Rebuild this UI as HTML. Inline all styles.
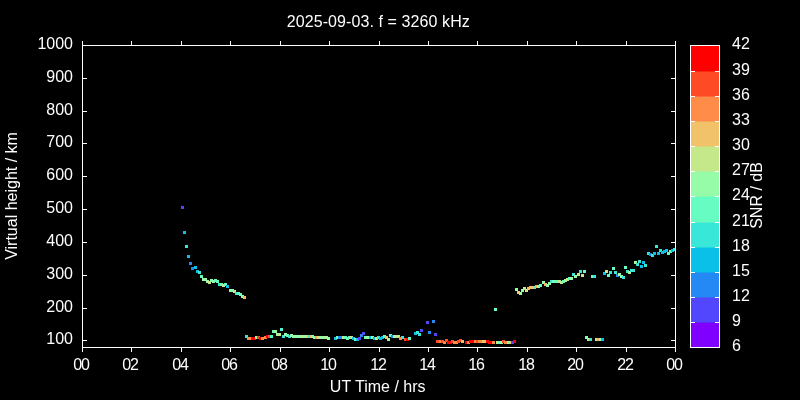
<!DOCTYPE html>
<html><head><meta charset="utf-8"><title>chart</title>
<style>
html,body{margin:0;padding:0;background:#000;width:800px;height:400px;overflow:hidden}
svg{display:block}
text{font-family:"Liberation Sans",sans-serif;font-size:16px;fill:#fff}
</style></head><body>
<svg width="800" height="400" viewBox="0 0 800 400">
<rect x="0" y="0" width="800" height="400" fill="#000"/>
<g shape-rendering="crispEdges">
<rect x="181" y="206" width="3" height="3" fill="#5247fc"/>
<rect x="183" y="231" width="3" height="3" fill="#0ac0e8"/>
<rect x="185" y="245" width="3" height="3" fill="#38e7d7"/>
<rect x="187" y="255" width="3" height="3" fill="#0ac0e8"/>
<rect x="189" y="262" width="3" height="3" fill="#2489f5"/>
<rect x="191" y="267" width="3" height="3" fill="#2489f5"/>
<rect x="194" y="266" width="3" height="3" fill="#0ac0e8"/>
<rect x="196" y="270" width="3" height="3" fill="#0ac0e8"/>
<rect x="198" y="271" width="3" height="3" fill="#38e7d7"/>
<rect x="200" y="275" width="3" height="3" fill="#66fcc2"/>
<rect x="202" y="278" width="3" height="3" fill="#96fca7"/>
<rect x="204" y="278" width="3" height="3" fill="#96fca7"/>
<rect x="206" y="280" width="3" height="3" fill="#96fca7"/>
<rect x="208" y="281" width="3" height="3" fill="#c4e88a"/>
<rect x="210" y="279" width="3" height="3" fill="#96fca7"/>
<rect x="212" y="280" width="3" height="3" fill="#96fca7"/>
<rect x="214" y="279" width="3" height="3" fill="#66fcc2"/>
<rect x="216" y="280" width="3" height="3" fill="#66fcc2"/>
<rect x="218" y="283" width="3" height="3" fill="#38e7d7"/>
<rect x="220" y="283" width="3" height="3" fill="#66fcc2"/>
<rect x="222" y="284" width="3" height="3" fill="#c4e88a"/>
<rect x="224" y="283" width="3" height="3" fill="#66fcc2"/>
<rect x="226" y="285" width="3" height="3" fill="#0ac0e8"/>
<rect x="229" y="289" width="3" height="3" fill="#96fca7"/>
<rect x="231" y="289" width="3" height="3" fill="#96fca7"/>
<rect x="233" y="290" width="3" height="3" fill="#c4e88a"/>
<rect x="235" y="292" width="3" height="3" fill="#38e7d7"/>
<rect x="237" y="292" width="3" height="3" fill="#66fcc2"/>
<rect x="239" y="293" width="3" height="3" fill="#66fcc2"/>
<rect x="241" y="295" width="3" height="3" fill="#96fca7"/>
<rect x="243" y="296" width="3" height="3" fill="#ffb360"/>
<rect x="245" y="335" width="3" height="3" fill="#38e7d7"/>
<rect x="247" y="337" width="3" height="3" fill="#ff8c49"/>
<rect x="249" y="337" width="3" height="3" fill="#ff8c49"/>
<rect x="251" y="337" width="3" height="3" fill="#ff0000"/>
<rect x="253" y="337" width="3" height="3" fill="#ff0000"/>
<rect x="255" y="336" width="3" height="3" fill="#96fca7"/>
<rect x="257" y="336" width="3" height="3" fill="#ff4a26"/>
<rect x="259" y="337" width="3" height="3" fill="#ff0000"/>
<rect x="261" y="337" width="3" height="3" fill="#ff8c49"/>
<rect x="264" y="336" width="3" height="3" fill="#ff8c49"/>
<rect x="266" y="335" width="3" height="3" fill="#ff0000"/>
<rect x="268" y="335" width="3" height="3" fill="#ff4a26"/>
<rect x="270" y="335" width="3" height="3" fill="#50f4cc"/>
<rect x="272" y="330" width="3" height="3" fill="#66fcc2"/>
<rect x="274" y="330" width="3" height="3" fill="#96fca7"/>
<rect x="276" y="333" width="3" height="3" fill="#96fca7"/>
<rect x="278" y="333" width="3" height="3" fill="#c4e88a"/>
<rect x="280" y="328" width="3" height="3" fill="#50f4cc"/>
<rect x="282" y="335" width="3" height="3" fill="#38e7d7"/>
<rect x="284" y="333" width="3" height="3" fill="#96fca7"/>
<rect x="286" y="334" width="3" height="3" fill="#66fcc2"/>
<rect x="288" y="335" width="3" height="3" fill="#38e7d7"/>
<rect x="290" y="334" width="3" height="3" fill="#96fca7"/>
<rect x="292" y="335" width="3" height="3" fill="#96fca7"/>
<rect x="294" y="335" width="3" height="3" fill="#96fca7"/>
<rect x="296" y="335" width="3" height="3" fill="#96fca7"/>
<rect x="299" y="335" width="3" height="3" fill="#96fca7"/>
<rect x="301" y="335" width="3" height="3" fill="#c4e88a"/>
<rect x="303" y="335" width="3" height="3" fill="#96fca7"/>
<rect x="305" y="335" width="3" height="3" fill="#c4e88a"/>
<rect x="307" y="335" width="3" height="3" fill="#4df3ce"/>
<rect x="309" y="335" width="3" height="3" fill="#ffa256"/>
<rect x="311" y="335" width="3" height="3" fill="#96fca7"/>
<rect x="313" y="336" width="3" height="3" fill="#96fca7"/>
<rect x="315" y="336" width="3" height="3" fill="#ffa256"/>
<rect x="317" y="336" width="3" height="3" fill="#c4e88a"/>
<rect x="319" y="336" width="3" height="3" fill="#96fca7"/>
<rect x="321" y="336" width="3" height="3" fill="#96fca7"/>
<rect x="323" y="336" width="3" height="3" fill="#c4e88a"/>
<rect x="325" y="336" width="3" height="3" fill="#96fca7"/>
<rect x="327" y="337" width="3" height="3" fill="#96fca7"/>
<rect x="334" y="337" width="3" height="3" fill="#0ac0e8"/>
<rect x="336" y="336" width="3" height="3" fill="#66fcc2"/>
<rect x="338" y="336" width="3" height="3" fill="#2489f5"/>
<rect x="340" y="336" width="3" height="3" fill="#2489f5"/>
<rect x="342" y="336" width="3" height="3" fill="#c4e88a"/>
<rect x="344" y="336" width="3" height="3" fill="#66fcc2"/>
<rect x="346" y="337" width="3" height="3" fill="#66fcc2"/>
<rect x="348" y="336" width="3" height="3" fill="#66fcc2"/>
<rect x="350" y="336" width="3" height="3" fill="#c4e88a"/>
<rect x="352" y="337" width="3" height="3" fill="#0ac0e8"/>
<rect x="354" y="338" width="3" height="3" fill="#66fcc2"/>
<rect x="356" y="338" width="3" height="3" fill="#0ac0e8"/>
<rect x="358" y="337" width="3" height="3" fill="#5247fc"/>
<rect x="360" y="334" width="3" height="3" fill="#2489f5"/>
<rect x="362" y="332" width="3" height="3" fill="#5247fc"/>
<rect x="364" y="336" width="3" height="3" fill="#66fcc2"/>
<rect x="366" y="336" width="3" height="3" fill="#96fca7"/>
<rect x="369" y="336" width="3" height="3" fill="#0ac0e8"/>
<rect x="371" y="336" width="3" height="3" fill="#96fca7"/>
<rect x="373" y="337" width="3" height="3" fill="#0ac0e8"/>
<rect x="375" y="337" width="3" height="3" fill="#c4e88a"/>
<rect x="377" y="336" width="3" height="3" fill="#38e7d7"/>
<rect x="379" y="337" width="3" height="3" fill="#0ac0e8"/>
<rect x="381" y="336" width="3" height="3" fill="#0ac0e8"/>
<rect x="383" y="335" width="3" height="3" fill="#66fcc2"/>
<rect x="385" y="336" width="3" height="3" fill="#f2c26b"/>
<rect x="387" y="338" width="3" height="3" fill="#96fca7"/>
<rect x="389" y="334" width="3" height="3" fill="#66fcc2"/>
<rect x="391" y="335" width="3" height="3" fill="#2489f5"/>
<rect x="393" y="335" width="3" height="3" fill="#96fca7"/>
<rect x="395" y="335" width="3" height="3" fill="#c4e88a"/>
<rect x="397" y="335" width="3" height="3" fill="#c4e88a"/>
<rect x="399" y="337" width="3" height="3" fill="#ff8c49"/>
<rect x="401" y="336" width="3" height="3" fill="#38e7d7"/>
<rect x="404" y="338" width="3" height="3" fill="#ff4a26"/>
<rect x="406" y="338" width="3" height="3" fill="#ff0000"/>
<rect x="408" y="337" width="3" height="3" fill="#66fcc2"/>
<rect x="414" y="332" width="3" height="3" fill="#0ac0e8"/>
<rect x="416" y="331" width="3" height="3" fill="#38e7d7"/>
<rect x="418" y="333" width="3" height="3" fill="#38e7d7"/>
<rect x="420" y="329" width="3" height="3" fill="#5247fc"/>
<rect x="426" y="321" width="3" height="3" fill="#5247fc"/>
<rect x="428" y="331" width="3" height="3" fill="#2489f5"/>
<rect x="432" y="320" width="3" height="3" fill="#2489f5"/>
<rect x="434" y="333" width="3" height="3" fill="#5247fc"/>
<rect x="436" y="340" width="3" height="3" fill="#ff4a26"/>
<rect x="439" y="340" width="3" height="3" fill="#ff8c49"/>
<rect x="441" y="340" width="3" height="3" fill="#ff4a26"/>
<rect x="443" y="341" width="3" height="3" fill="#ff8c49"/>
<rect x="445" y="339" width="3" height="3" fill="#ff4a26"/>
<rect x="447" y="341" width="3" height="3" fill="#ff0000"/>
<rect x="449" y="341" width="3" height="3" fill="#ff0000"/>
<rect x="451" y="340" width="3" height="3" fill="#ff4a26"/>
<rect x="453" y="341" width="3" height="3" fill="#ff8c49"/>
<rect x="455" y="341" width="3" height="3" fill="#ff8c49"/>
<rect x="457" y="340" width="3" height="3" fill="#ff4a26"/>
<rect x="459" y="339" width="3" height="3" fill="#ff4a26"/>
<rect x="461" y="340" width="3" height="3" fill="#f2c26b"/>
<rect x="465" y="341" width="3" height="3" fill="#ff0000"/>
<rect x="467" y="341" width="3" height="3" fill="#ff8c49"/>
<rect x="469" y="340" width="3" height="3" fill="#ff0000"/>
<rect x="471" y="340" width="3" height="3" fill="#ff0000"/>
<rect x="474" y="340" width="3" height="3" fill="#ff8c49"/>
<rect x="476" y="340" width="3" height="3" fill="#ff4a26"/>
<rect x="478" y="340" width="3" height="3" fill="#ff8c49"/>
<rect x="480" y="340" width="3" height="3" fill="#ff8c49"/>
<rect x="482" y="340" width="3" height="3" fill="#f2c26b"/>
<rect x="484" y="340" width="3" height="3" fill="#f2c26b"/>
<rect x="486" y="340" width="3" height="3" fill="#ff0000"/>
<rect x="488" y="341" width="3" height="3" fill="#ff0000"/>
<rect x="490" y="341" width="3" height="3" fill="#ff0000"/>
<rect x="492" y="341" width="3" height="3" fill="#ff8c49"/>
<rect x="494" y="308" width="3" height="3" fill="#66fcc2"/>
<rect x="496" y="341" width="3" height="3" fill="#c4e88a"/>
<rect x="498" y="341" width="3" height="3" fill="#66fcc2"/>
<rect x="500" y="341" width="3" height="3" fill="#96fca7"/>
<rect x="502" y="340" width="3" height="3" fill="#ff4a26"/>
<rect x="504" y="341" width="3" height="3" fill="#ff8c49"/>
<rect x="507" y="341" width="3" height="3" fill="#96fca7"/>
<rect x="509" y="341" width="3" height="3" fill="#f2c26b"/>
<rect x="511" y="341" width="3" height="3" fill="#5247fc"/>
<rect x="513" y="340" width="3" height="3" fill="#ff0000"/>
<rect x="515" y="288" width="3" height="3" fill="#96fca7"/>
<rect x="517" y="291" width="3" height="3" fill="#f2c26b"/>
<rect x="519" y="292" width="3" height="3" fill="#96fca7"/>
<rect x="521" y="289" width="3" height="3" fill="#96fca7"/>
<rect x="523" y="287" width="3" height="3" fill="#c4e88a"/>
<rect x="525" y="289" width="3" height="3" fill="#c4e88a"/>
<rect x="527" y="287" width="3" height="3" fill="#f9bb66"/>
<rect x="529" y="286" width="3" height="3" fill="#f9bb66"/>
<rect x="531" y="286" width="3" height="3" fill="#f9bb66"/>
<rect x="533" y="286" width="3" height="3" fill="#55f6cb"/>
<rect x="535" y="285" width="3" height="3" fill="#ffae5e"/>
<rect x="537" y="285" width="3" height="3" fill="#96fca7"/>
<rect x="539" y="284" width="3" height="3" fill="#66fcc2"/>
<rect x="542" y="281" width="3" height="3" fill="#96fca7"/>
<rect x="544" y="283" width="3" height="3" fill="#ffae5e"/>
<rect x="546" y="284" width="3" height="3" fill="#96fca7"/>
<rect x="548" y="282" width="3" height="3" fill="#96fca7"/>
<rect x="550" y="280" width="3" height="3" fill="#38e7d7"/>
<rect x="552" y="280" width="3" height="3" fill="#75feba"/>
<rect x="554" y="280" width="3" height="3" fill="#75feba"/>
<rect x="556" y="280" width="3" height="3" fill="#66fcc2"/>
<rect x="558" y="280" width="3" height="3" fill="#c4e88a"/>
<rect x="560" y="281" width="3" height="3" fill="#c4e88a"/>
<rect x="562" y="280" width="3" height="3" fill="#66fcc2"/>
<rect x="564" y="279" width="3" height="3" fill="#96fca7"/>
<rect x="566" y="278" width="3" height="3" fill="#c4e88a"/>
<rect x="568" y="277" width="3" height="3" fill="#66fcc2"/>
<rect x="570" y="277" width="3" height="3" fill="#96fca7"/>
<rect x="572" y="273" width="3" height="3" fill="#38e7d7"/>
<rect x="574" y="275" width="3" height="3" fill="#96fca7"/>
<rect x="577" y="273" width="3" height="3" fill="#c4e88a"/>
<rect x="579" y="270" width="3" height="3" fill="#38e7d7"/>
<rect x="581" y="274" width="3" height="3" fill="#c4e88a"/>
<rect x="583" y="270" width="3" height="3" fill="#66fcc2"/>
<rect x="585" y="336" width="3" height="3" fill="#7effb5"/>
<rect x="587" y="338" width="3" height="3" fill="#c4e88a"/>
<rect x="589" y="338" width="3" height="3" fill="#38e7d7"/>
<rect x="591" y="275" width="3" height="3" fill="#66fcc2"/>
<rect x="593" y="275" width="3" height="3" fill="#38e7d7"/>
<rect x="595" y="338" width="3" height="3" fill="#c4e88a"/>
<rect x="597" y="338" width="3" height="3" fill="#ffa759"/>
<rect x="599" y="338" width="3" height="3" fill="#96fca7"/>
<rect x="601" y="338" width="3" height="3" fill="#0ac0e8"/>
<rect x="603" y="272" width="3" height="3" fill="#0ac0e8"/>
<rect x="605" y="270" width="3" height="3" fill="#c4e88a"/>
<rect x="607" y="274" width="3" height="3" fill="#66fcc2"/>
<rect x="609" y="271" width="3" height="3" fill="#38e7d7"/>
<rect x="612" y="267" width="3" height="3" fill="#66fcc2"/>
<rect x="614" y="271" width="3" height="3" fill="#38e7d7"/>
<rect x="616" y="274" width="3" height="3" fill="#2489f5"/>
<rect x="618" y="273" width="3" height="3" fill="#96fca7"/>
<rect x="620" y="275" width="3" height="3" fill="#96fca7"/>
<rect x="622" y="276" width="3" height="3" fill="#38e7d7"/>
<rect x="624" y="266" width="3" height="3" fill="#66fcc2"/>
<rect x="626" y="270" width="3" height="3" fill="#38e7d7"/>
<rect x="628" y="271" width="3" height="3" fill="#b2f396"/>
<rect x="630" y="269" width="3" height="3" fill="#38e7d7"/>
<rect x="632" y="269" width="3" height="3" fill="#38e7d7"/>
<rect x="634" y="261" width="3" height="3" fill="#acf59a"/>
<rect x="636" y="263" width="3" height="3" fill="#38e7d7"/>
<rect x="638" y="260" width="3" height="3" fill="#38e7d7"/>
<rect x="640" y="265" width="3" height="3" fill="#0ac0e8"/>
<rect x="642" y="261" width="3" height="3" fill="#0ac0e8"/>
<rect x="644" y="264" width="3" height="3" fill="#38e7d7"/>
<rect x="647" y="252" width="3" height="3" fill="#38e7d7"/>
<rect x="649" y="253" width="3" height="3" fill="#2489f5"/>
<rect x="651" y="254" width="3" height="3" fill="#38e7d7"/>
<rect x="653" y="252" width="3" height="3" fill="#0ac0e8"/>
<rect x="655" y="245" width="3" height="3" fill="#38e7d7"/>
<rect x="657" y="252" width="3" height="3" fill="#0ac0e8"/>
<rect x="659" y="249" width="3" height="3" fill="#38e7d7"/>
<rect x="661" y="251" width="3" height="3" fill="#0ac0e8"/>
<rect x="663" y="250" width="3" height="3" fill="#0ac0e8"/>
<rect x="665" y="249" width="3" height="3" fill="#0ac0e8"/>
<rect x="667" y="252" width="3" height="3" fill="#66fcc2"/>
<rect x="669" y="250" width="3" height="3" fill="#66fcc2"/>
<rect x="671" y="249" width="3" height="3" fill="#0ac0e8"/>
<rect x="673" y="248" width="2" height="3" fill="#38e7d7"/>
<rect x="82" y="45" width="594" height="1" fill="#ffffff"/>
<rect x="82" y="347" width="594" height="1" fill="#ffffff"/>
<rect x="82" y="45" width="1" height="303" fill="#ffffff"/>
<rect x="675" y="45" width="1" height="303" fill="#ffffff"/>
<rect x="82" y="41" width="1" height="4" fill="#ffffff"/>
<rect x="82" y="348" width="1" height="4" fill="#ffffff"/>
<rect x="131" y="41" width="1" height="4" fill="#ffffff"/>
<rect x="131" y="348" width="1" height="4" fill="#ffffff"/>
<rect x="181" y="41" width="1" height="4" fill="#ffffff"/>
<rect x="181" y="348" width="1" height="4" fill="#ffffff"/>
<rect x="230" y="41" width="1" height="4" fill="#ffffff"/>
<rect x="230" y="348" width="1" height="4" fill="#ffffff"/>
<rect x="280" y="41" width="1" height="4" fill="#ffffff"/>
<rect x="280" y="348" width="1" height="4" fill="#ffffff"/>
<rect x="329" y="41" width="1" height="4" fill="#ffffff"/>
<rect x="329" y="348" width="1" height="4" fill="#ffffff"/>
<rect x="379" y="41" width="1" height="4" fill="#ffffff"/>
<rect x="379" y="348" width="1" height="4" fill="#ffffff"/>
<rect x="428" y="41" width="1" height="4" fill="#ffffff"/>
<rect x="428" y="348" width="1" height="4" fill="#ffffff"/>
<rect x="477" y="41" width="1" height="4" fill="#ffffff"/>
<rect x="477" y="348" width="1" height="4" fill="#ffffff"/>
<rect x="527" y="41" width="1" height="4" fill="#ffffff"/>
<rect x="527" y="348" width="1" height="4" fill="#ffffff"/>
<rect x="576" y="41" width="1" height="4" fill="#ffffff"/>
<rect x="576" y="348" width="1" height="4" fill="#ffffff"/>
<rect x="626" y="41" width="1" height="4" fill="#ffffff"/>
<rect x="626" y="348" width="1" height="4" fill="#ffffff"/>
<rect x="675" y="41" width="1" height="4" fill="#ffffff"/>
<rect x="675" y="348" width="1" height="4" fill="#ffffff"/>
<rect x="83" y="340" width="4" height="1" fill="#ffffff"/>
<rect x="671" y="340" width="4" height="1" fill="#ffffff"/>
<rect x="83" y="308" width="4" height="1" fill="#ffffff"/>
<rect x="671" y="308" width="4" height="1" fill="#ffffff"/>
<rect x="83" y="275" width="4" height="1" fill="#ffffff"/>
<rect x="671" y="275" width="4" height="1" fill="#ffffff"/>
<rect x="83" y="242" width="4" height="1" fill="#ffffff"/>
<rect x="671" y="242" width="4" height="1" fill="#ffffff"/>
<rect x="83" y="209" width="4" height="1" fill="#ffffff"/>
<rect x="671" y="209" width="4" height="1" fill="#ffffff"/>
<rect x="83" y="176" width="4" height="1" fill="#ffffff"/>
<rect x="671" y="176" width="4" height="1" fill="#ffffff"/>
<rect x="83" y="143" width="4" height="1" fill="#ffffff"/>
<rect x="671" y="143" width="4" height="1" fill="#ffffff"/>
<rect x="83" y="111" width="4" height="1" fill="#ffffff"/>
<rect x="671" y="111" width="4" height="1" fill="#ffffff"/>
<rect x="83" y="78" width="4" height="1" fill="#ffffff"/>
<rect x="671" y="78" width="4" height="1" fill="#ffffff"/>
<rect x="83" y="45" width="4" height="1" fill="#ffffff"/>
<rect x="671" y="45" width="4" height="1" fill="#ffffff"/>
<rect x="690" y="323" width="30" height="24" fill="#8000ff"/>
<rect x="690" y="298" width="30" height="24" fill="#5247fc"/>
<rect x="690" y="322" width="30" height="1" fill="#6924fe"/>
<rect x="690" y="273" width="30" height="24" fill="#2489f5"/>
<rect x="690" y="297" width="30" height="1" fill="#3b68f8"/>
<rect x="690" y="248" width="30" height="24" fill="#0ac0e8"/>
<rect x="690" y="272" width="30" height="1" fill="#17a4ee"/>
<rect x="690" y="223" width="30" height="24" fill="#38e7d7"/>
<rect x="690" y="247" width="30" height="1" fill="#21d4e0"/>
<rect x="690" y="197" width="30" height="25" fill="#66fcc2"/>
<rect x="690" y="222" width="30" height="1" fill="#4ff2cc"/>
<rect x="690" y="172" width="30" height="24" fill="#96fca7"/>
<rect x="690" y="196" width="30" height="1" fill="#7efcb4"/>
<rect x="690" y="147" width="30" height="24" fill="#c4e88a"/>
<rect x="690" y="171" width="30" height="1" fill="#adf298"/>
<rect x="690" y="122" width="30" height="24" fill="#f2c26b"/>
<rect x="690" y="146" width="30" height="1" fill="#dbd57a"/>
<rect x="690" y="97" width="30" height="24" fill="#ff8c49"/>
<rect x="690" y="121" width="30" height="1" fill="#f8a75a"/>
<rect x="690" y="72" width="30" height="24" fill="#ff4a26"/>
<rect x="690" y="96" width="30" height="1" fill="#ff6b38"/>
<rect x="690" y="46" width="30" height="25" fill="#ff0000"/>
<rect x="690" y="71" width="30" height="1" fill="#ff2513"/>
<rect x="690" y="45" width="30" height="1" fill="#ffffff"/>
<rect x="690" y="347" width="30" height="1" fill="#ffffff"/>
<rect x="690" y="45" width="1" height="303" fill="#ffffff"/>
<rect x="719" y="45" width="1" height="303" fill="#ffffff"/>
<rect x="691" y="347" width="4" height="1" fill="#ffffff"/>
<rect x="715" y="347" width="4" height="1" fill="#ffffff"/>
<rect x="691" y="322" width="4" height="1" fill="#ffffff"/>
<rect x="715" y="322" width="4" height="1" fill="#ffffff"/>
<rect x="691" y="297" width="4" height="1" fill="#ffffff"/>
<rect x="715" y="297" width="4" height="1" fill="#ffffff"/>
<rect x="691" y="272" width="4" height="1" fill="#ffffff"/>
<rect x="715" y="272" width="4" height="1" fill="#ffffff"/>
<rect x="691" y="247" width="4" height="1" fill="#ffffff"/>
<rect x="715" y="247" width="4" height="1" fill="#ffffff"/>
<rect x="691" y="222" width="4" height="1" fill="#ffffff"/>
<rect x="715" y="222" width="4" height="1" fill="#ffffff"/>
<rect x="691" y="196" width="4" height="1" fill="#ffffff"/>
<rect x="715" y="196" width="4" height="1" fill="#ffffff"/>
<rect x="691" y="171" width="4" height="1" fill="#ffffff"/>
<rect x="715" y="171" width="4" height="1" fill="#ffffff"/>
<rect x="691" y="146" width="4" height="1" fill="#ffffff"/>
<rect x="715" y="146" width="4" height="1" fill="#ffffff"/>
<rect x="691" y="121" width="4" height="1" fill="#ffffff"/>
<rect x="715" y="121" width="4" height="1" fill="#ffffff"/>
<rect x="691" y="96" width="4" height="1" fill="#ffffff"/>
<rect x="715" y="96" width="4" height="1" fill="#ffffff"/>
<rect x="691" y="71" width="4" height="1" fill="#ffffff"/>
<rect x="715" y="71" width="4" height="1" fill="#ffffff"/>
<rect x="691" y="45" width="4" height="1" fill="#ffffff"/>
<rect x="715" y="45" width="4" height="1" fill="#ffffff"/>
</g>
<g style="opacity:0.999">
<text x="73.30" y="369.8" text-anchor="start" style="letter-spacing:-1.2px">00</text>
<text x="122.30" y="369.8" text-anchor="start" style="letter-spacing:-1.2px">02</text>
<text x="172.30" y="369.8" text-anchor="start" style="letter-spacing:-1.2px">04</text>
<text x="221.30" y="369.8" text-anchor="start" style="letter-spacing:-1.2px">06</text>
<text x="271.30" y="369.8" text-anchor="start" style="letter-spacing:-1.2px">08</text>
<text x="320.30" y="369.8" text-anchor="start" style="letter-spacing:-1.2px">10</text>
<text x="370.30" y="369.8" text-anchor="start" style="letter-spacing:-1.2px">12</text>
<text x="419.30" y="369.8" text-anchor="start" style="letter-spacing:-1.2px">14</text>
<text x="468.30" y="369.8" text-anchor="start" style="letter-spacing:-1.2px">16</text>
<text x="518.30" y="369.8" text-anchor="start" style="letter-spacing:-1.2px">18</text>
<text x="567.30" y="369.8" text-anchor="start" style="letter-spacing:-1.2px">20</text>
<text x="617.30" y="369.8" text-anchor="start" style="letter-spacing:-1.2px">22</text>
<text x="666.30" y="369.8" text-anchor="start" style="letter-spacing:-1.2px">00</text>
<text x="73" y="343.85" text-anchor="end" >100</text>
<text x="73" y="311.85" text-anchor="end" >200</text>
<text x="73" y="278.85" text-anchor="end" >300</text>
<text x="73" y="245.85" text-anchor="end" >400</text>
<text x="73" y="212.85" text-anchor="end" >500</text>
<text x="73" y="179.85" text-anchor="end" >600</text>
<text x="73" y="146.85" text-anchor="end" >700</text>
<text x="73" y="114.85" text-anchor="end" >800</text>
<text x="73" y="81.85" text-anchor="end" >900</text>
<text x="73" y="48.85" text-anchor="end" >1000</text>
<text x="732" y="350.85" text-anchor="start" >6</text>
<text x="732" y="325.85" text-anchor="start" >9</text>
<text x="732" y="300.85" text-anchor="start" >12</text>
<text x="732" y="275.85" text-anchor="start" >15</text>
<text x="732" y="250.85" text-anchor="start" >18</text>
<text x="732" y="225.85" text-anchor="start" >21</text>
<text x="732" y="199.85" text-anchor="start" >24</text>
<text x="732" y="174.85" text-anchor="start" >27</text>
<text x="732" y="149.85" text-anchor="start" >30</text>
<text x="732" y="124.85" text-anchor="start" >33</text>
<text x="732" y="99.85" text-anchor="start" >36</text>
<text x="732" y="74.85" text-anchor="start" >39</text>
<text x="732" y="48.85" text-anchor="start" >42</text>
<text x="378.3" y="27" text-anchor="middle" style="letter-spacing:0.09px">2025-09-03. f = 3260 kHz</text>
<text x="377.7" y="392.2" text-anchor="middle" >UT Time / hrs</text>
<text transform="translate(17,196) rotate(-90)" text-anchor="middle">Virtual height / km</text>
<text transform="translate(762,195.5) rotate(-90)" text-anchor="middle">SNR / dB</text>
</g>
</svg>
</body></html>
